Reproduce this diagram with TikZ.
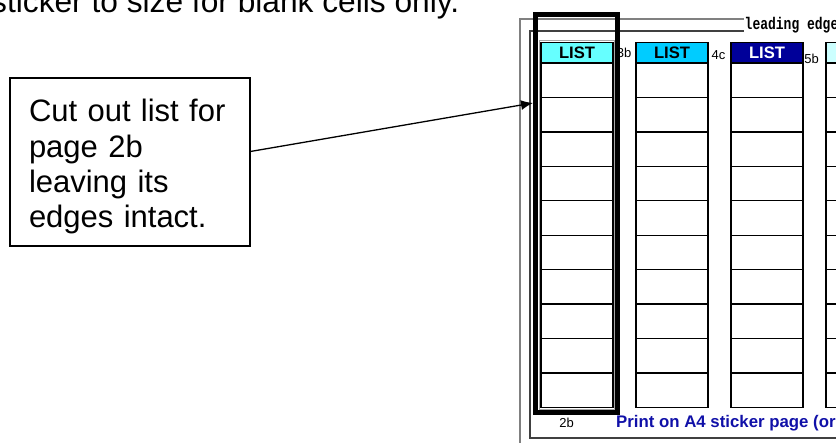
\documentclass[tikz,border=0pt]{standalone}
\usepackage{fontspec}
\setmainfont{Liberation Sans}
\setmonofont{Liberation Mono}
\usetikzlibrary{arrows.meta}
\definecolor{listcyan}{HTML}{66FFFF}
\definecolor{listsky}{HTML}{00CCFF}
\definecolor{listnavy}{HTML}{000099}
\definecolor{listpale}{HTML}{CCFFFF}
\definecolor{printblue}{HTML}{1010A8}
\tikzset{
  note/.style={draw, line width=1.5pt, inner xsep=19pt, inner ysep=0pt,
    text width=202pt, align=left, text height=44pt, text depth=124pt,
    font=\fontsize{31}{35.3}\selectfont},
  cell/.style={draw, line width=1.3pt},
  header/.style={font=\bfseries\fontsize{16.6}{18}\selectfont, inner sep=0pt},
  pagelabel/.style={font=\fontsize{13}{14}\selectfont, inner sep=0pt},
}

\begin{document}
\begin{tikzpicture}[x=1pt, y=-1pt]
  \useasboundingbox (0,0) rectangle (836,443);
  \node[font=\fontsize{31.7}{35}\selectfont, anchor=base west, inner sep=0pt]
    (topline) at (-9,13) {sticker to size for blank cells only.};
  % sticker page frames
  \draw[gray, line width=1.5pt] (520,19) rectangle (900,470);
  \draw[black!75, line width=1.2pt] (530,31) rectangle (900,438);
  \node[font=\ttfamily\bfseries\fontsize{13}{14}\selectfont, fill=white,
    inner sep=0.5pt, anchor=base west] (edge) at (744,30)
    {\scalebox{1}[1.3]{leading edge}};
  % list columns
  \foreach \col/\shade in {541/listcyan, 636/listsky, 731/listnavy, 826/listpale} {
    \draw[cell, fill=\shade] (\col,42.7) rectangle ++(72,20.3);
    \foreach \r in {0,...,9}
      \draw[cell] (\col,63+\r*34.45) rectangle ++(72,34.45);
  }
  \draw[gray!70, line width=1pt] (539.3,41) rectangle (614.7,409.2);
  \node[header] (list1) at (577,53) {LIST};
  \node[header] (list2) at (672,53) {LIST};
  \node[header, text=white] (list3) at (767,53) {LIST};
  \node[pagelabel] (pg3b) at (624,52.5) {3b};
  \node[pagelabel] (pg4c) at (718.5,55) {4c};
  \node[pagelabel] (pg5b) at (811.5,59) {5b};
  \node[pagelabel] (pg2b) at (566.5,422.5) {2b};
  \node[font=\bfseries\fontsize{16.8}{18}\selectfont, text=printblue,
    anchor=base west, inner sep=0pt] (printnote) at (616,428)
    {Print on A4 sticker page (or};
  % cut line round list 2b
  \draw[line width=5pt] (535.5,14.5) rectangle (617.5,412.5);
  \coordinate (cutedge) at (533,103);
  \node[note] (cutnote) at (130,162) {Cut out list for\\page 2b\\leaving its\\edges intact.};
  \draw [->, >={Latex[length=12pt,width=10pt]}, line width=1.3pt]
    (cutnote.5.7) -- (cutedge);
\end{tikzpicture}
\end{document}
